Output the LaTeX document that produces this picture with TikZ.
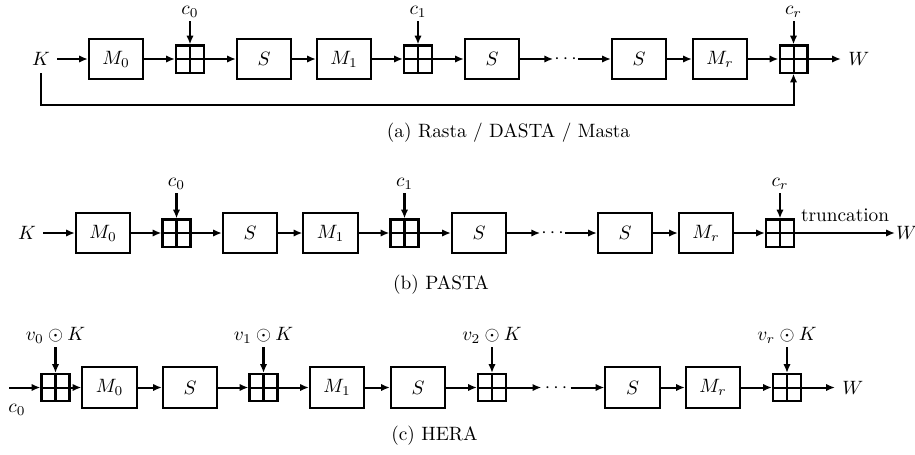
\documentclass[tikz,border=0pt]{standalone}
\usetikzlibrary{arrows.meta}
\begin{document}
\begin{tikzpicture}[x=0.518pt,y=-0.518pt,
 line width=1.05pt,
 blk/.style={draw,line width=1.05pt,minimum width=28pt,minimum height=21.2pt,inner sep=0pt},
 pls/.style={draw,line width=1.05pt,minimum width=14.5pt,minimum height=14pt,inner sep=0pt,
   path picture={\draw[line width=1.05pt] (path picture bounding box.north) -- (path picture bounding box.south)
     (path picture bounding box.west) -- (path picture bounding box.east);}},
 arr/.style={-{Latex[length=4.6pt,width=3.8pt]}},
 dts/.style={inner sep=0pt,text height=5pt,text depth=0pt},
 lbl/.style={anchor=south,inner sep=1.5pt}
]
\useasboundingbox (0,0) rectangle (915,454);
% ---------- (a) ----------
\node (Ka) at (41,59) {$K$};
\node[blk] (M0a) at (116,59) {$M_0$};
\node[pls] (P0a) at (190,59) {};
\node[blk] (S0a) at (264,59) {$S$};
\node[blk] (M1a) at (344,59) {$M_1$};
\node[pls] (P1a) at (418,59) {};
\node[blk] (S1a) at (492,59) {$S$};
\node[dts] (Da) at (565.5,59) {$\cdots$};
\node[blk] (Sra) at (639,59) {$S$};
\node[blk] (Mra) at (720,59) {$M_r$};
\node[pls] (Pra) at (793.5,59) {};
\node[anchor=west] (Wa) at (841,59) {$W$};
\node[lbl] (c0a) at (190,21) {$c_0$};
\node[lbl] (c1a) at (418,21) {$c_1$};
\node[lbl] (cra) at (793.5,21) {$c_r$};
\coordinate (loopy) at (0,105);
\draw[arr] (Ka) -- (M0a);
\draw[arr] (M0a) -- (P0a);
\draw[arr] (P0a) -- (S0a);
\draw[arr] (S0a) -- (M1a);
\draw[arr] (M1a) -- (P1a);
\draw[arr] (P1a) -- (S1a);
\draw[arr] (S1a) -- (Da);
\draw[arr] (Da) -- (Sra);
\draw[arr] (Sra) -- (Mra);
\draw[arr] (Mra) -- (Pra);
\draw[arr] (Pra) -- (Wa);
\draw[arr] (c0a) -- (P0a);
\draw[arr] (c1a) -- (P1a);
\draw[arr] (cra) -- (Pra);
\draw[arr] (Ka.south) -- (Ka.south |- loopy) -| (Pra.south);
\node (capa) at (508.5,132.5) {(a) Rasta / DASTA / Masta};
% ---------- (b) ----------
\node (Kb) at (27,233) {$K$};
\node[blk] (M0b) at (103,233) {$M_0$};
\node[pls] (P0b) at (176.5,233) {};
\node[blk] (S0b) at (250,233) {$S$};
\node[blk] (M1b) at (330.5,233) {$M_1$};
\node[pls] (P1b) at (404.5,233) {};
\node[blk] (S1b) at (479,233) {$S$};
\node[dts] (Db) at (552.5,233) {$\cdots$};
\node[blk] (Srb) at (625,233) {$S$};
\node[blk] (Mrb) at (706,233) {$M_r$};
\node[pls] (Prb) at (780,233) {};
\node[anchor=west,inner sep=0pt] (Wb) at (895,233) {$W$};
\node[lbl] (c0b) at (176.5,193) {$c_0$};
\node[lbl] (c1b) at (404.5,193) {$c_1$};
\node[lbl] (crb) at (780,193) {$c_r$};
\draw[arr] (Kb) -- (M0b);
\draw[arr] (M0b) -- (P0b);
\draw[arr] (P0b) -- (S0b);
\draw[arr] (S0b) -- (M1b);
\draw[arr] (M1b) -- (P1b);
\draw[arr] (P1b) -- (S1b);
\draw[arr] (S1b) -- (Db);
\draw[arr] (Db) -- (Srb);
\draw[arr] (Srb) -- (Mrb);
\draw[arr] (Mrb) -- (Prb);
\draw[arr] (Prb) -- node[above,yshift=2pt] {truncation} (Wb);
\draw[arr] (c0b) -- (P0b);
\draw[arr] (c1b) -- (P1b);
\draw[arr] (crb) -- (Prb);
\node (capb) at (441,285) {(b) PASTA};
% ---------- (c) ----------
\coordinate (cin) at (9,387.5);
\node (c0c) at (17,410) {$c_0$};
\node[pls] (P0c) at (55.5,387.5) {};
\node[blk] (M0c) at (109.5,387.5) {$M_0$};
\node[blk] (S0c) at (190,387.5) {$S$};
\node[pls] (P1c) at (263.5,387.5) {};
\node[blk] (M1c) at (337,387.5) {$M_1$};
\node[blk] (S1c) at (418,387.5) {$S$};
\node[pls] (P2c) at (492,387.5) {};
\node[dts,inner xsep=1.2pt] (Dc) at (556,387.5) {$\cdots$};
\node[blk] (Src) at (632.5,387.5) {$S$};
\node[blk] (Mrc) at (713,387.5) {$M_r$};
\node[pls] (Prc) at (787,387.5) {};
\node[anchor=west] (Wc) at (835,387.5) {$W$};
\node[lbl] (v0) at (55.5,347) {$v_0 \odot K$};
\node[lbl] (v1) at (263.5,347) {$v_1 \odot K$};
\node[lbl] (v2) at (492,347) {$v_2 \odot K$};
\node[lbl] (vr) at (787,347) {$v_r \odot K$};
\draw[arr] (cin) -- (P0c);
\draw[arr] (P0c) -- (M0c);
\draw[arr] (M0c) -- (S0c);
\draw[arr] (S0c) -- (P1c);
\draw[arr] (P1c) -- (M1c);
\draw[arr] (M1c) -- (S1c);
\draw[arr] (S1c) -- (P2c);
\draw[arr] (P2c) -- (Dc);
\draw[arr] (Dc) -- (Src);
\draw[arr] (Src) -- (Mrc);
\draw[arr] (Mrc) -- (Prc);
\draw[arr] (Prc) -- (Wc);
\draw[arr] (v0) -- (P0c);
\draw[arr] (v1) -- (P1c);
\draw[arr] (v2) -- (P2c);
\draw[arr] (vr) -- (Prc);
\node (capc) at (434.5,435.5) {(c) HERA};
\end{tikzpicture}
\end{document}
